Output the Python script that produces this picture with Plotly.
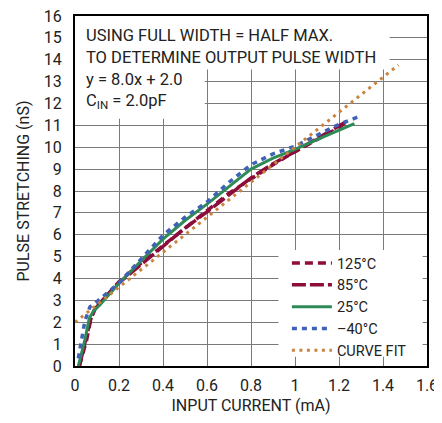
import plotly.graph_objects as go

FONT = "Roboto, Liberation Sans, sans-serif"

# ---- data ----
x_125 = [0.02, 0.035, 0.053, 0.071, 0.09, 0.12, 0.2, 0.3, 0.4, 0.5, 0.6, 0.7, 0.8, 0.9, 1.0, 1.1, 1.2, 1.24]
y_125 = [0.0, 0.6, 1.2, 2.1, 2.6, 2.95, 3.85, 4.7, 5.5, 6.35, 7.1, 7.9, 8.55, 9.2, 9.8, 10.35, 10.9, 11.2]

x_85 = [0.02, 0.035, 0.05, 0.07, 0.09, 0.12, 0.2, 0.3, 0.4, 0.5, 0.6, 0.7, 0.8, 0.9, 1.0, 1.1, 1.2, 1.23]
y_85 = [0.0, 0.6, 1.2, 2.1, 2.6, 2.95, 3.8, 4.65, 5.45, 6.3, 7.05, 7.85, 8.6, 9.25, 9.8, 10.4, 10.95, 11.15]

x_25 = [0.015, 0.03, 0.045, 0.065, 0.083, 0.114, 0.2, 0.3, 0.4, 0.5, 0.6, 0.7, 0.8, 0.9, 1.0, 1.1, 1.2, 1.27]
y_25 = [0.0, 0.6, 1.2, 2.18, 2.5, 2.8, 3.78, 4.8, 5.8, 6.65, 7.4, 8.2, 9.0, 9.5, 9.9, 10.35, 10.78, 11.08]

x_m40 = [0.015, 0.03, 0.045, 0.068, 0.1, 0.2, 0.3, 0.4, 0.5, 0.6, 0.7, 0.8, 0.9, 1.0, 1.1, 1.2, 1.29]
y_m40 = [0.35, 1.19, 2.06, 2.71, 2.95, 3.8, 4.9, 5.98, 6.8, 7.5, 8.4, 9.2, 9.7, 10.05, 10.55, 11.05, 11.4]

fit_slope = 8.0
fit_intercept = 2.0
x_fit = [0.0, 1.47]
y_fit = [fit_slope * v + fit_intercept for v in x_fit]

x_ticks = [0, 0.2, 0.4, 0.6, 0.8, 1.0, 1.2, 1.4, 1.6]
y_ticks = list(range(0, 17))

RED = "#8c0d3a"
GREEN = "#2e8b57"
BLUE = "#3f62b8"
ORANGE = "#c98440"

fig = go.Figure()
fig.add_trace(go.Scatter(x=x_125, y=y_125, mode="lines", name="125°C",
                         line=dict(color=RED, width=3.5, dash="8px,5px")))
fig.add_trace(go.Scatter(x=x_85, y=y_85, mode="lines", name="85°C",
                         line=dict(color=RED, width=3.5, dash="14px,4px")))
fig.add_trace(go.Scatter(x=x_25, y=y_25, mode="lines", name="25°C",
                         line=dict(color=GREEN, width=3)))
fig.add_trace(go.Scatter(x=x_m40, y=y_m40, mode="lines", name="–40°C",
                         line=dict(color=BLUE, width=3.5, dash="5px,5px")))
fig.add_trace(go.Scatter(x=x_fit, y=y_fit, mode="lines", name="CURVE FIT",
                         line=dict(color=ORANGE, width=3, dash="3px,4.5px")))

# white panels hiding the grid behind text and legend
fig.add_shape(type="rect", xref="x", yref="y", x0=0, x1=1.43, y0=13.55, y1=16,
              fillcolor="white", line_width=0, layer="between")
fig.add_shape(type="rect", xref="x", yref="y", x0=0, x1=0.59, y0=11.3, y1=13.6,
              fillcolor="white", line_width=0, layer="between")
fig.add_shape(type="rect", xref="x", yref="y", x0=0.925, x1=1.58, y0=0.42, y1=5.3,
              fillcolor="white", line_width=0, layer="between")

notes = ["USING FULL WIDTH = HALF MAX.",
         "TO DETERMINE OUTPUT PULSE WIDTH",
         "y = 8.0x + 2.0",
         "C<sub>IN</sub> = 2.0pF"]
note_y = [15.1, 14.1, 13.1, 12.1]
for t, yy in zip(notes, note_y):
    fig.add_annotation(x=0.04, y=yy, xref="x", yref="y", text=t, showarrow=False,
                       xanchor="left", yanchor="middle",
                       font=dict(family=FONT, size=16.5, color="#222"))

axis_common = dict(showline=True, mirror=True, linecolor="black", linewidth=2,
                   showgrid=True, gridcolor="#7a7a7a", gridwidth=1.3,
                   zeroline=False, ticks="", automargin=False,
                   ticklabeloverflow="allow",
                   tickfont=dict(family=FONT, size=16, color="#222"))

fig.update_layout(
    width=434, height=407,
    margin=dict(l=67, r=15, t=8, b=49),
    paper_bgcolor="white", plot_bgcolor="white",
    showlegend=True,
    legend=dict(x=0.602, y=0.34, xanchor="left", yanchor="top",
                bgcolor="rgba(0,0,0,0)", borderwidth=0,
                font=dict(family=FONT, size=14.5, color="#222"),
                tracegroupgap=0, itemwidth=40),
    xaxis=dict(range=[0, 1.6], tickvals=x_ticks, ticklabelstandoff=4,
               title=dict(text="INPUT CURRENT (mA)", standoff=12,
                          font=dict(family=FONT, size=16, color="#222")),
               **axis_common),
    yaxis=dict(range=[0, 16], tickvals=y_ticks, ticklabelstandoff=8,
               title=dict(text="PULSE STRETCHING (nS)", standoff=10,
                          font=dict(family=FONT, size=16, color="#222")),
               **axis_common),
)

fig.write_html("out.html")
